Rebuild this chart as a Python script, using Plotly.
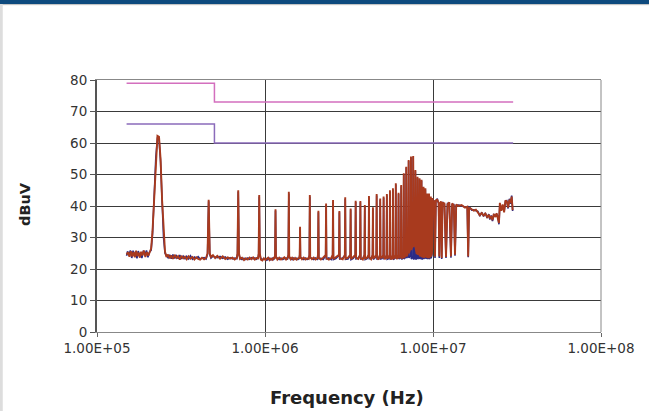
import numpy as np
import plotly.graph_objects as go

# limit lines (CISPR-style steps), frequencies in kHz
limit_freq_khz = [150, 500, 500, 30000]
limit_qp = [79, 79, 73, 73]
limit_avg = [66, 66, 60, 60]

red_scan = [
    (150, 24.6), (153, 25.3), (156, 23.9), (159, 25.6), (162, 24.0), (165, 25.4), (168, 23.7),
    (171, 25.8), (174, 24.1), (177, 25.2), (180, 23.6), (183, 25.5), (186, 24.3), (190, 25.9),
    (194, 23.8), (198, 25.4), (202, 24.2), (206, 25.6), (210, 26.5), (214, 32), (219, 44),
    (224, 56), (229, 62.3), (234, 62.0), (239, 55), (244, 42), (249, 31), (254, 25.5),
    (259, 23.8), (265, 24.6), (271, 23.4), (277, 24.3), (283, 23.2), (290, 24.5), (297, 23.5),
    (304, 24.1), (311, 23.0), (318, 24.2), (326, 23.4), (334, 23.9), (342, 23.1), (351, 24.0),
    (360, 23.3), (370, 23.8), (380, 23.0), (390, 23.7), (400, 23.2), (411, 23.0), (422, 23.6),
    (434, 23.1), (446, 23.5), (455, 25), (462, 42), (469, 25), (477, 23.8), (490, 24.4),
    (505, 23.5), (520, 24.2), (540, 23.3), (560, 24.0), (580, 23.2), (600, 23.7), (620, 23.3),
    (640, 23.6), (660, 23.0), (680, 23.6), (686, 25), (693, 45), (700, 25), (710, 23.2),
    (730, 23.6), (750, 22.8), (770, 23.4), (790, 23.0), (810, 23.6), (830, 23.1), (850, 23.7),
    (870, 23.0), (890, 23.5), (910, 23.4), (917, 25), (924, 43.5), (931, 25), (945, 23.0),
    (965, 22.7), (985, 23.4), (1005, 22.9), (1025, 23.4), (1045, 23.6), (1065, 22.8),
    (1085, 23.3), (1105, 22.9), (1125, 23.5), (1140, 23.2), (1148, 24.5), (1155, 39),
    (1162, 24.0), (1185, 23.0), (1215, 23.6), (1245, 23.0), (1275, 23.4), (1305, 23.7),
    (1335, 23.0), (1360, 23.4), (1378, 24.5), (1386, 44.5), (1394, 24.0), (1420, 23.1),
    (1450, 23.6), (1480, 23.0), (1510, 23.5), (1540, 23.0), (1570, 23.4), (1600, 23.5),
    (1609, 24.5), (1617, 33.4), (1625, 23.8), (1660, 23.1), (1700, 23.6), (1740, 23.0),
    (1780, 23.4), (1820, 23.2), (1838, 24.5), (1848, 43.5), (1858, 23.8), (1900, 23.1),
    (1950, 23.6), (2000, 23.0), (2050, 23.4), (2068, 24.5), (2079, 38.5), (2090, 23.5),
    (2150, 23.0), (2220, 23.6), (2298, 24.5), (2310, 40.8), (2322, 23.4), (2400, 23.0),
    (2480, 23.5), (2528, 24.5), (2541, 41.9), (2554, 23.2), (2640, 23.7), (2758, 24.5),
    (2772, 38.4), (2786, 23.4), (2900, 23.1), (2988, 24.5), (3003, 42.8), (3018, 23.3),
    (3120, 23.6), (3218, 24.5), (3234, 39.2), (3250, 23.2), (3350, 23.8), (3448, 24.5),
    (3465, 41.7), (3482, 23.5), (3590, 23.2), (3678, 24.5), (3696, 41.6), (3714, 23.4),
    (3820, 23.0), (3908, 24.5), (3927, 40.3), (3946, 23.2), (4050, 23.6), (4138, 24.5),
    (4158, 43.2), (4178, 23.6), (4280, 23.1), (4368, 24.5), (4389, 39.6), (4410, 23.3),
    (4500, 23.8), (4598, 24.5), (4620, 43.8), (4642, 23.5), (4740, 23.0), (4828, 24.5),
    (4851, 42.4), (4874, 23.4), (4970, 23.7), (5058, 24.5), (5082, 43.0), (5106, 23.6),
    (5200, 23.1), (5288, 24.5), (5313, 43.8), (5338, 23.3), (5430, 23.6), (5518, 24.5),
    (5544, 45.0), (5570, 23.5), (5660, 23.0), (5748, 24.5), (5775, 45.6), (5802, 23.2),
    (5900, 23.6), (5978, 24.5), (6006, 47.2), (6034, 23.6), (6120, 23.2), (6208, 24.5),
    (6237, 44.2), (6266, 23.4), (6350, 23.8), (6438, 24.5), (6468, 46.7), (6498, 23.3),
    (6580, 23.6), (6668, 24.5), (6699, 50.4), (6730, 23.5), (6810, 24.0), (6898, 25),
    (6930, 52.5), (6962, 24.0), (7040, 24.5), (7128, 26), (7161, 54.6), (7194, 25.0),
    (7280, 26), (7360, 27), (7392, 55.7), (7424, 26.0), (7520, 27), (7590, 28), (7623, 55.9),
    (7656, 27.0), (7750, 28), (7820, 29), (7854, 51.4), (7888, 26.5), (7980, 25), (8050, 25),
    (8085, 49.3), (8120, 24.5), (8220, 25), (8280, 24.5), (8316, 48.8), (8352, 24.0),
    (8450, 24.5), (8510, 24.5), (8547, 48.3), (8584, 23.8), (8690, 24), (8740, 24.5),
    (8778, 46.1), (8816, 23.6), (8920, 24), (8970, 24.5), (9009, 45.6), (9048, 23.8),
    (9150, 24), (9200, 24.5), (9240, 44.0), (9280, 23.5), (9380, 24), (9430, 24.5),
    (9471, 44.0), (9512, 23.5), (9600, 24), (9660, 25), (9702, 43.0), (9744, 24.0),
    (9850, 25), (9890, 27), (9933, 42.5), (10000, 41.5), (10150, 41.5), (10280, 24),
    (10400, 41.8), (10600, 42), (10800, 41), (10900, 24), (11000, 40.5), (11150, 41.5),
    (11270, 23.5), (11400, 41), (11700, 40.8), (11950, 23.8), (12200, 40.5), (12500, 41.2),
    (12790, 24), (13000, 40.8), (13300, 40.2), (13520, 24.5), (13750, 40.5), (14200, 40),
    (14800, 40.3), (15500, 39.5), (16000, 39.8), (16200, 24), (16400, 39.5), (17000, 39),
    (17500, 38.5), (18000, 38.8), (18500, 38), (19000, 37.1), (19500, 37.8), (20000, 37.0),
    (20500, 37.6), (21000, 36.5), (21500, 37.2), (21800, 36.0), (22200, 36.8), (22600, 35.5),
    (23000, 37.5), (23500, 36.5), (23900, 37.7), (24300, 36.5), (24700, 34.6), (25000, 41),
    (25500, 38.5), (26000, 40.5), (26500, 38.0), (27000, 41.8), (27500, 41.4), (28000, 39.5),
    (28500, 42), (29000, 41), (29400, 43), (29800, 38.7),
]

# blue scan: (kHz, dBuV), mostly hidden under the red one
blue_scan = [
    (150, 24.2), (152, 25.6), (155, 24.4), (158, 25.9), (161, 23.5), (164, 25.8), (167, 24.6),
    (170, 25.1), (173, 23.4), (176, 25.7), (179, 24.4), (182, 25.0), (185, 23.5), (189, 25.8),
    (193, 24.5), (197, 25.9), (201, 23.7), (205, 25.3), (210, 26.0), (214, 31), (219, 43),
    (224, 55.5), (229, 61.5), (234, 61.3), (239, 54), (244, 41), (249, 30), (254, 25.0),
    (259, 24.3), (265, 23.6), (271, 24.5), (277, 23.3), (283, 24.6), (290, 23.4), (297, 24.2),
    (304, 23.3), (311, 24.4), (318, 23.2), (326, 24.1), (334, 23.3), (342, 24.0), (351, 23.2),
    (360, 24.2), (370, 23.1), (380, 23.8), (390, 23.4), (400, 23.9), (411, 23.2), (422, 23.4),
    (434, 23.6), (446, 23.2), (455, 24.8), (462, 41.5), (469, 24.6), (477, 23.5), (490, 24.1),
    (505, 23.8), (520, 23.6), (540, 24.0), (560, 23.4), (580, 23.8), (600, 23.1), (620, 23.6),
    (640, 23.2), (660, 23.5), (680, 23.3), (686, 24.8), (693, 44.6), (700, 24.6), (710, 23.5),
    (730, 23.0), (750, 23.4), (770, 23.0), (790, 23.5), (810, 23.1), (830, 23.6), (850, 23.2),
    (870, 23.5), (890, 23.1), (910, 23.6), (917, 24.8), (924, 43.0), (931, 24.6), (945, 23.3),
    (965, 23.0), (985, 23.1), (1005, 23.3), (1025, 22.8), (1045, 23.2), (1065, 23.4),
    (1085, 22.9), (1105, 23.4), (1125, 23.0), (1140, 23.4), (1148, 24.3), (1155, 38.6),
    (1162, 23.8), (1185, 23.3), (1215, 23.0), (1245, 23.5), (1275, 23.0), (1305, 23.3),
    (1335, 23.5), (1360, 23.0), (1378, 24.3), (1386, 44.0), (1394, 23.8), (1420, 23.4),
    (1450, 23.0), (1480, 23.5), (1510, 23.1), (1540, 23.4), (1570, 23.0), (1600, 23.3),
    (1609, 24.3), (1617, 33.0), (1625, 23.6), (1660, 23.4), (1700, 23.0), (1740, 23.5),
    (1780, 23.0), (1820, 23.4), (1838, 24.3), (1848, 43.0), (1858, 23.6), (1900, 23.4),
    (1950, 23.0), (2000, 23.5), (2050, 23.1), (2068, 24.3), (2079, 38.0), (2090, 23.3),
    (2150, 23.4), (2220, 23.0), (2298, 24.3), (2310, 40.3), (2322, 23.2), (2400, 23.5),
    (2480, 23.0), (2528, 24.3), (2541, 41.4), (2554, 23.0), (2640, 23.3), (2758, 24.3),
    (2772, 38.0), (2786, 23.2), (2900, 23.5), (2988, 24.3), (3003, 42.3), (3018, 23.1),
    (3120, 23.2), (3218, 24.3), (3234, 38.8), (3250, 23.0), (3350, 23.4), (3448, 24.3),
    (3465, 41.3), (3482, 23.2), (3590, 23.5), (3678, 24.3), (3696, 41.2), (3714, 23.2),
    (3820, 23.4), (3908, 24.3), (3927, 39.8), (3946, 23.0), (4050, 23.3), (4138, 24.3),
    (4158, 42.8), (4178, 23.3), (4280, 23.5), (4368, 24.3), (4389, 39.2), (4410, 23.1),
    (4500, 23.4), (4598, 24.3), (4620, 43.3), (4642, 23.2), (4740, 23.4), (4828, 24.3),
    (4851, 42.0), (4874, 23.2), (4970, 23.3), (5058, 24.3), (5082, 42.6), (5106, 23.3),
    (5200, 23.5), (5288, 24.3), (5313, 43.4), (5338, 23.1), (5430, 23.3), (5518, 24.3),
    (5544, 44.6), (5570, 23.2), (5660, 23.4), (5748, 24.3), (5775, 45.2), (5802, 23.0),
    (5900, 23.3), (5978, 24.3), (6006, 46.8), (6034, 23.3), (6120, 23.5), (6208, 24.3),
    (6237, 43.8), (6266, 23.2), (6350, 23.4), (6438, 24.3), (6468, 46.3), (6498, 23.1),
    (6580, 23.3), (6668, 24.3), (6699, 50.0), (6730, 23.2), (6810, 23.5), (6898, 24),
    (6930, 52.2), (6962, 23.5), (7040, 23.8), (7128, 24), (7161, 54.3), (7194, 23.5),
    (7280, 24), (7360, 24), (7392, 55.5), (7424, 23.2), (7520, 23.5), (7590, 23.8),
    (7623, 55.6), (7656, 23.0), (7750, 23.4), (7820, 23.6), (7854, 51.0), (7888, 23.0),
    (7980, 23.3), (8050, 23.5), (8085, 49.0), (8120, 23.2), (8220, 23.6), (8280, 23.8),
    (8316, 48.4), (8352, 23.2), (8450, 23.5), (8510, 23.8), (8547, 48.0), (8584, 23.0),
    (8690, 23.5), (8740, 23.8), (8778, 45.8), (8816, 23.2), (8920, 23.6), (8970, 23.8),
    (9009, 45.2), (9048, 23.3), (9150, 23.6), (9200, 24), (9240, 43.6), (9280, 23.2),
    (9380, 23.5), (9430, 24), (9471, 43.6), (9512, 23.2), (9600, 23.5), (9660, 24.5),
    (9702, 42.6), (9744, 23.4), (9850, 24.5), (9890, 26), (9933, 42.2), (10000, 41.2),
    (10150, 41.8), (10280, 23.5), (10400, 41.5), (10600, 42.3), (10800, 40.8), (10900, 23.5),
    (11000, 40.8), (11150, 41.2), (11270, 23.2), (11400, 41.3), (11700, 40.5), (11950, 23.5),
    (12200, 40.8), (12500, 40.9), (12790, 23.6), (13000, 40.5), (13300, 40.5), (13520, 24.2),
    (13750, 40.2), (14200, 40.3), (14800, 40), (15500, 39.8), (16000, 39.5), (16200, 23.7),
    (16400, 39.8), (17000, 38.7), (17500, 38.8), (18000, 38.5), (18500, 38.3), (19000, 36.8),
    (19500, 38.0), (20000, 36.7), (20500, 37.8), (21000, 36.2), (21500, 37.4), (21800, 35.7),
    (22200, 37.0), (22600, 35.2), (23000, 37.2), (23500, 36.8), (23900, 37.4), (24300, 36.8),
    (24700, 34.2), (25000, 40.6), (25500, 38.8), (26000, 40.2), (26500, 38.3), (27000, 41.5),
    (27500, 41.7), (28000, 39.2), (28500, 42.3), (29000, 40.7), (29400, 43.3), (29800, 38.4),
]

tick_vals = [1e5, 1e6, 1e7, 1e8]
tick_text = ["1.00E+05", "1.00E+06", "1.00E+07", "1.00E+08"]

# the source image is stretched sideways, DejaVu's wider glyphs get closer than Arial
FONT = "DejaVu Sans, Liberation Sans, sans-serif"

red = np.array(red_scan)
blue = np.array(blue_scan)
lim_f = np.array(limit_freq_khz) * 1e3

fig = go.Figure()
fig.add_trace(go.Scatter(x=lim_f, y=limit_qp, mode="lines",
                         line=dict(color="#D36FBE", width=1.5)))
fig.add_trace(go.Scatter(x=lim_f, y=limit_avg, mode="lines",
                         line=dict(color="#8B6BBA", width=1.5)))
fig.add_trace(go.Scatter(x=blue[:, 0] * 1e3, y=blue[:, 1], mode="lines",
                         line=dict(color="#2B2B86", width=1.6)))
fig.add_trace(go.Scatter(x=red[:, 0] * 1e3, y=red[:, 1], mode="lines",
                         line=dict(color="#A83A1E", width=1.9)))

fig.update_layout(
    width=649,
    height=411,
    margin=dict(l=97, r=48, t=80, b=79),
    showlegend=False,
    plot_bgcolor="#FFFFFF",
    paper_bgcolor="#FFFFFF",
    font=dict(family=FONT, color="#333333", size=13),
    xaxis=dict(
        type="log", range=[5, 8], tickvals=tick_vals, ticktext=tick_text,
        showgrid=True, gridcolor="#3a3a3a", gridwidth=1,
        showline=True, linecolor="#888888", linewidth=1, mirror=True,
        ticks="outside", ticklen=4, tickcolor="#666666",
        tickfont=dict(size=13.5, color="#333333"), zeroline=False,
    ),
    yaxis=dict(
        range=[0, 80], dtick=10, tick0=0,
        showgrid=True, gridcolor="#3a3a3a", gridwidth=1,
        showline=True, linecolor="#555555", linewidth=2,
        ticks="outside", ticklen=5, tickcolor="#555555",
        tickfont=dict(size=13.5, color="#333333"), zeroline=False,
    ),
    shapes=[
        # dark band across the top of the page
        dict(type="rect", xref="paper", yref="paper", x0=-0.2, x1=1.1,
             y0=1.302, y1=1.33, fillcolor="#0E4A7E", line_width=0, layer="above"),
        dict(type="line", xref="paper", yref="paper", x0=-0.2, x1=1.1,
             y0=1.299, y1=1.299, line=dict(color="#BBBBBB", width=1)),
        # light strip on the left edge
        dict(type="rect", xref="paper", yref="paper", x0=-0.2, x1=-0.187,
             y0=-0.4, y1=1.302, fillcolor="#DDDDDD", line_width=0),
        # right border of the plot area
        dict(type="line", xref="paper", yref="paper", x0=1, x1=1, y0=0, y1=1,
             line=dict(color="#888888", width=1)),
    ],
    annotations=[
        dict(text="<b>Frequency (Hz)</b>", xref="paper", yref="paper", x=0.497, y=-0.258,
             showarrow=False, font=dict(size=18, color="#222222"), yanchor="middle"),
        dict(text="<b>dBuV</b>", xref="paper", yref="paper", x=-0.143, y=0.508,
             showarrow=False, textangle=-90, font=dict(size=14.5, color="#222222"),
             xanchor="center", yanchor="middle"),
    ],
)

# the page's default body margin would shift the 649x411 figure off the window
fig.write_html("out.html", config={"displayModeBar": False},
               post_script="document.body.style.margin='0';")
